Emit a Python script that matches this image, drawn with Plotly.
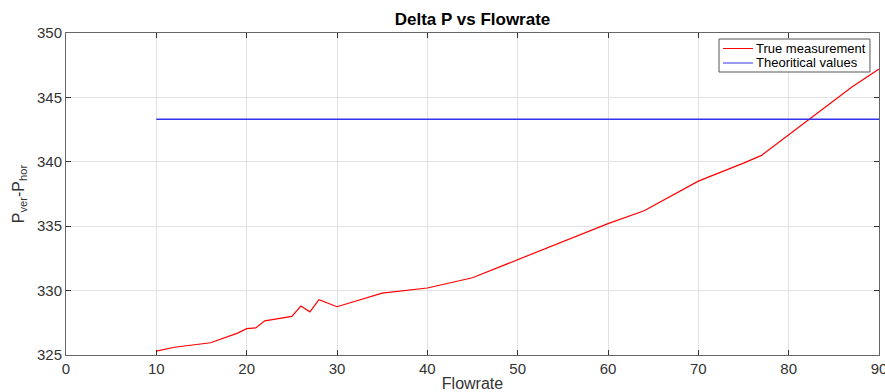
import plotly.graph_objects as go

# Measured pressure difference between vertical and horizontal taps
flowrate = [10, 12, 16, 17, 18, 19, 20, 21, 22, 25, 26, 27, 28, 30, 35, 40, 45,
            50, 55, 60, 64, 70, 75, 77, 87, 90]
delta_p = [325.3, 325.6, 325.95, 326.2, 326.45, 326.7, 327.05, 327.1, 327.65, 328.0,
           328.8, 328.35, 329.3, 328.75, 329.8, 330.2, 331.0, 332.4, 333.8, 335.2,
           336.2, 338.5, 339.9, 340.5, 345.8, 347.2]

# Theoretical value (constant over the flowrate range)
theory_x = [10, 90]
theory_y = [343.3, 343.3]

x_ticks = [0, 10, 20, 30, 40, 50, 60, 70, 80, 90]
y_ticks = [325, 330, 335, 340, 345, 350]

series_names = ["True measurement", "Theoritical values"]
series_colors = ["#ff0000", "#3333ee"]

font = "Liberation Sans, Arial, Helvetica, sans-serif"

fig = go.Figure()
fig.add_trace(go.Scatter(x=flowrate, y=delta_p, mode="lines", name=series_names[0],
                         line=dict(color=series_colors[0], width=1.2), showlegend=False))
fig.add_trace(go.Scatter(x=theory_x, y=theory_y, mode="lines", name=series_names[1],
                         line=dict(color=series_colors[1], width=1.4), showlegend=False))

axis_common = dict(
    showline=True, linecolor="#666666", linewidth=1, mirror="ticks",
    ticks="inside", ticklen=5, tickcolor="#333333",
    showgrid=True, gridcolor="#e2e2e2", gridwidth=1,
    zeroline=False, ticklabeloverflow="allow", automargin=False,
    tickfont=dict(family=font, size=15, color="#333333"),
)

# Compact boxed legend in the upper-right corner of the axes (paper units)
plot_top, plot_h = 33, 322
box_x0, box_x1 = 0.8032, 0.9889
box_y0, box_y1 = 1 - (72 - plot_top) / plot_h, 1 - (39 - plot_top) / plot_h
row_y = [1 - (48.5 - plot_top) / plot_h, 1 - (63 - plot_top) / plot_h]
line_x0, line_x1 = 0.8081, 0.8450
text_x = 0.8475

shapes = [dict(type="rect", xref="paper", yref="paper",
               x0=box_x0, x1=box_x1, y0=box_y0, y1=box_y1,
               line=dict(color="#555555", width=1), fillcolor="white", layer="above")]
annotations = []
for name, color, ry in zip(series_names, series_colors, row_y):
    shapes.append(dict(type="line", xref="paper", yref="paper",
                       x0=line_x0, x1=line_x1, y0=ry, y1=ry,
                       line=dict(color=color, width=1), layer="above"))
    annotations.append(dict(xref="paper", yref="paper", x=text_x, y=ry,
                            xanchor="left", yanchor="middle", showarrow=False,
                            borderpad=0, text=name,
                            font=dict(family=font, size=13, color="black")))

fig.update_layout(
    width=885, height=392,
    margin=dict(l=66, r=6, t=33, b=37),
    paper_bgcolor="white", plot_bgcolor="white",
    title=dict(text="<b>Delta P vs Flowrate</b>", x=0.5, xref="paper", xanchor="center",
               y=1 - 19.5 / 392, yanchor="middle",
               font=dict(family=font, size=17, color="black")),
    xaxis=dict(range=[0, 90], tickvals=x_ticks,
               title=dict(text="Flowrate", standoff=2,
                          font=dict(family=font, size=16, color="#333333")),
               **axis_common),
    yaxis=dict(range=[325, 350], tickvals=y_ticks,
               title=dict(text="P<sub>ver</sub>-P<sub>hor</sub>", standoff=8,
                          font=dict(family=font, size=16, color="#333333")),
               **axis_common),
    shapes=shapes,
    annotations=annotations,
    showlegend=False,
)

fig.write_html("out.html")
